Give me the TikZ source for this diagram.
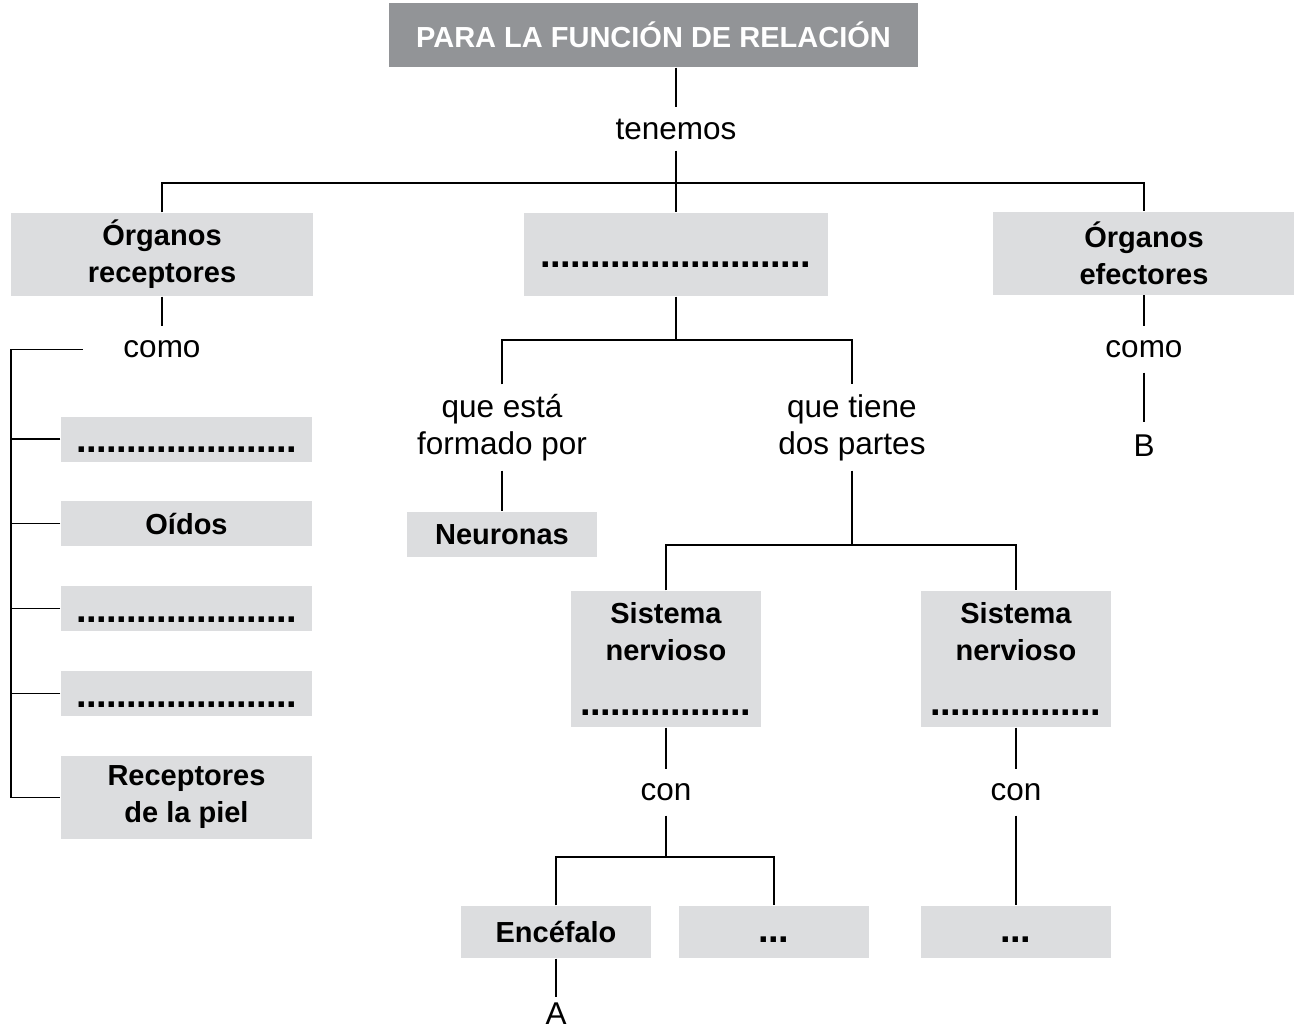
\documentclass[tikz,border=0pt]{standalone}
\usepackage{fontspec}
\setmainfont{Liberation Sans}
\definecolor{tgray}{HTML}{929497}
\definecolor{bgray}{HTML}{DCDDDF}
\newcommand{\blank}[2]{\rule{0pt}{#2}\hbox to #1{\cleaders\hbox to 10pt{\hss\fontsize{38}{38}\selectfont.\hss}\hfill}}

\begin{document}
\begin{tikzpicture}[x=1pt, y=-1pt, line width=1.3pt,
  head/.style={fill=tgray, text=white, font=\fontsize{29}{37}\selectfont\bfseries, minimum width=529, minimum height=64, inner sep=0},
  box/.style={fill=bgray, font=\fontsize{29}{37}\selectfont\bfseries, align=center, inner sep=0},
  word/.style={font=\fontsize{31.5}{37}\selectfont, align=center, inner sep=0},
]
\useasboundingbox (0,0) rectangle (1294,1034);
\node[head] (title) at (653.5,35) {PARA LA FUNCIÓN DE RELACIÓN};
\node[word, minimum height=42] (tenemos) at (676,129) {tenemos};
\node[box, minimum width=302, minimum height=83] (recep) at (162,254.5) {Órganos\\receptores};
\node[box, minimum width=304, minimum height=83] (mid) at (676,254.5) {\blank{270pt}{25pt}};
\node[box, minimum width=302, minimum height=83] (efect) at (1144,253) {Órganos\\efectores};
\node[word, minimum height=45] (como1) at (162,349.5) {como};
\node[word, minimum height=45] (como2) at (1144,349.5) {como};
\node[word, minimum height=45] (B) at (1144,445.5) {B};
\foreach \n/\y/\t in {b1/439/{\blank{220pt}{27pt}}, oidos/523.5/Oídos, b3/608.5/{\blank{220pt}{27pt}}, b4/693.5/{\blank{220pt}{27pt}}}
  \node[box, minimum width=251, minimum height=45] (\n) at (186.5,\y) {\t};
\node[box, minimum width=251, minimum height=83] (piel) at (186.5,797.5) {Receptores\\de la piel};
\node[word, minimum height=85] (que1) at (502,427.5) {que está\\formado por};
\node[word, minimum height=85] (que2) at (852,427.5) {que tiene\\dos partes};
\node[box, minimum width=190, minimum height=45] (neur) at (502,534.5) {Neuronas};
\node[box, minimum width=190, minimum height=136] (sn1) at (666,659) {Sistema\\nervioso\\[18pt]\blank{170pt}{0pt}};
\node[box, minimum width=190, minimum height=136] (sn2) at (1016,659) {Sistema\\nervioso\\[18pt]\blank{170pt}{0pt}};
\node[word, minimum height=45] (con1) at (666,792.5) {con};
\node[word, minimum height=45] (con2) at (1016,792.5) {con};
\node[box, minimum width=190, minimum height=52] (ence) at (556,932) {Encéfalo};
\node[box, minimum width=190, minimum height=52] (dots1) at (774,932) {\blank{30pt}{20pt}};
\node[box, minimum width=190, minimum height=52] (dots2) at (1016,932) {\blank{30pt}{20pt}};
\node[word, minimum height=32] (A) at (556,1014) {A};

\coordinate (fork1) at (676,183);
\coordinate (fork2) at (676,340);
\coordinate (fork3) at (852,545);
\coordinate (fork4) at (666,857);
\coordinate (spine) at (11,350);

\draw (title.south -| tenemos) -- (tenemos);
\draw (tenemos) -- (mid);
\draw (recep.north) |- (fork1) -| (efect.north);
\draw (recep) -- (como1);
\draw (efect) -- (como2);
\draw (como2) -- (B);
\draw[shorten <=40pt] (como1.west) -- (como1.west -| spine) |- (piel.west);
\foreach \n in {b1,oidos,b3,b4}
  \draw (\n.west) -- (\n.west -| spine);
\draw (mid) -- (fork2);
\draw (que1.north) |- (fork2) -| (que2.north);
\draw (que1) -- (neur);
\draw (que2) -- (fork3);
\draw (sn1.north) |- (fork3) -| (sn2.north);
\draw (sn1) -- (con1);
\draw (sn2) -- (con2);
\draw (con2) -- (dots2);
\draw (con1) -- (fork4);
\draw (ence.north) |- (fork4) -| (dots1.north);
\draw (ence) -- (A);
\end{tikzpicture}
\end{document}
